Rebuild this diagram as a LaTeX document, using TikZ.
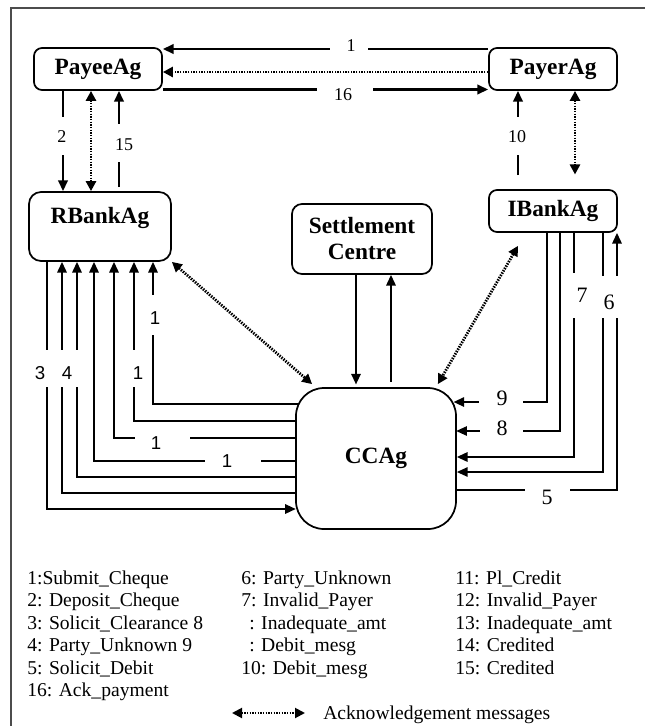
\documentclass[tikz,border=0pt]{standalone}
\usepackage{fontspec}
\setmainfont{Liberation Serif}
\newfontfamily\lsans{Liberation Sans}
\usetikzlibrary{arrows.meta}
\begin{document}
\begin{tikzpicture}[x=0.75pt,y=-0.75pt,
  box/.style={draw, line width=1.3pt, inner sep=0pt, align=center,
    font=\fontsize{17.5}{19.5}\selectfont\bfseries},
  topl/.style={line width=1.8pt},
  bund/.style={line width=1.5pt},
  mid/.style={line width=1.1pt},
  tip/.style={-{Triangle[length=8pt,width=7pt]}},
  dots/.style={line width=2.1pt, dash pattern=on 1.1pt off 0.9pt},
  ack/.style={dots, {Triangle[length=7.5pt,width=7.5pt]}-{Triangle[length=7.5pt,width=7.5pt]}},
  numa/.style={inner sep=0pt, font=\fontsize{13.5}{14}\selectfont},
  numb/.style={inner sep=0pt, font=\fontsize{14}{15}\lsans},
  numc/.style={inner sep=0pt, font=\fontsize{16.5}{17}\selectfont},
  leg/.style={anchor=base west, inner sep=0pt, font=\fontsize{14.7}{16}\selectfont}
]
\useasboundingbox (0,0) rectangle (645,726);
% frame
\draw[line width=0.8pt, black!70] (11,745) -- (11,8) -- (660,8);

% boxes
\node[box, rounded corners=6pt, minimum width=96pt, minimum height=31.5pt] (payee) at (98,69) {PayeeAg};
\node[box, rounded corners=6pt, minimum width=96pt, minimum height=31.5pt] (payer) at (553,69) {PayerAg};
\node[box, rounded corners=9pt, minimum width=106.5pt, minimum height=51.75pt] (rbank) at (100,226.5) {};
\node[font=\fontsize{17.5}{19.5}\selectfont\bfseries, inner sep=0pt] (rbanklbl) at (100,218) {RBankAg};
\node[box, rounded corners=7.5pt, minimum width=105pt, minimum height=52.5pt] (settle) at (362,239) {Settlement\\Centre};
\node[box, rounded corners=6pt, minimum width=96pt, minimum height=31.5pt] (ibank) at (553,211) {IBankAg};
\node[box, rounded corners=21pt, minimum width=120pt, minimum height=105.75pt] (cc) at (376,458.5) {CCAg};

% top connectors
\draw[topl, tip] (payer.west |- 0,49) -- (payee.east |- 0,49);
\draw[dots, -{Triangle[length=7.5pt,width=7.5pt]}] (payer.west |- 0,72) -- (payee.east |- 0,72);
\draw[topl, tip] (payee.east |- 0,89.5) -- (payer.west |- 0,89.5);
\draw[topl, tip] (payee.south -| 63,0) -- (rbank.north -| 63,0);
\draw[ack] (payee.south -| 91,0) -- (rbank.north -| 91,0);
\draw[topl, tip] ([yshift=3pt]rbank.north -| 119,0) -- (payee.south -| 119,0);
\draw[topl, tip] ([yshift=10.5pt]ibank.north -| 518,0) -- (payer.south -| 518,0);
\draw[ack] (payer.south -| 575,0) -- ([yshift=11pt]ibank.north -| 575,0);

% settlement
\draw[bund, tip] (settle.south -| 356,0) -- ([yshift=2pt]cc.north -| 356,0);
\draw[bund, tip] ([yshift=4pt]cc.north -| 391,0) -- (settle.south -| 391,0);

% diagonals
\draw[ack] (rbank.south east) -- ([shift={(12.75pt,2.25pt)}]cc.north west);
\draw[ack] ([shift={(-26.25pt,-9.75pt)}]ibank.south) -- ([shift={(-14.25pt,2.25pt)}]cc.north east);

% left bundle
\draw[bund, tip] ([xshift=2pt]cc.west |- 0,404) -| (153,0 |- rbank.south);
\draw[bund, tip] (cc.west |- 0,421) -| (134,0 |- rbank.south);
\draw[bund, tip] (cc.west |- 0,438) -| (114,0 |- rbank.south);
\draw[bund, tip] (cc.west |- 0,461) -| (94,0 |- rbank.south);
\draw[bund, tip] (cc.west |- 0,477) -| (77,0 |- rbank.south);
\draw[bund, tip] (cc.west |- 0,493) -| (62,0 |- rbank.south);
\draw[bund, tip] (rbank.south -| 47,0) |- ([xshift=0.5pt]cc.west |- 0,509);

% right bundle
\draw[bund, tip] (ibank.south -| 547,0) |- ([xshift=-2.5pt]cc.east |- 0,402);
\draw[mid, tip] (ibank.south -| 560,0) |- ([xshift=-0.5pt]cc.east |- 0,431);
\draw[bund, tip] (ibank.south -| 574,0) |- (cc.east |- 0,457);
\draw[mid, tip] (ibank.south -| 603,0) |- (cc.east |- 0,472);
\draw[bund, tip] (cc.east |- 0,490) -| (617,0 |- ibank.south);

% gaps in lines
\fill[white] (330,41) rectangle (368,57);
\fill[white] (317,84) rectangle (373,96);
\fill[white] (56,117) rectangle (70,155);
\fill[white] (112,124) rectangle (126,162);
\fill[white] (511,117) rectangle (525,155);
\fill[white] (146,295) rectangle (160,335);
\fill[white] (41,350) rectangle (84,387);
\fill[white] (127,350) rectangle (141,387);
\fill[white] (135,432) rectangle (190,444);
\fill[white] (205,455) rectangle (261,467);
\fill[white] (479,396) rectangle (523,408);
\fill[white] (480,425) rectangle (523,437);
\fill[white] (567,273) rectangle (581,318);
\fill[white] (597,276) rectangle (624,318);
\fill[white] (525,484) rectangle (570,496);

% labels
\node[numa] (t1) at (351,46) {1};
\node[numa] (t16) at (343,95) {16};
\node[numa] (t2) at (62,137) {2};
\node[numa] (t15) at (124,145) {15};
\node[numa] (t10) at (517,137) {10};
\node[numb] (la) at (155,318) {1};
\node[numb] (l3) at (40,373) {3};
\node[numb] (l4) at (67,373) {4};
\node[numb] (lb) at (138,373) {1};
\node[numb] (lc) at (156,443) {1};
\node[numb] (ld) at (227,461) {1};
\node[numc] (r9) at (502,398) {9};
\node[numc] (r8) at (502,428) {8};
\node[numc] (r7) at (582,295) {7};
\node[numc] (r6) at (609,302) {6};
\node[numc] (r5) at (547,497) {5};

% legend
\node[leg] (a1) at (27,584) {1:Submit\_Cheque};
\node[leg] (a2) at (27,606.5) {2: Deposit\_Cheque};
\node[leg] (a3) at (27,629) {3: Solicit\_Clearance 8};
\node[leg] (a4) at (27,651.5) {4: Party\_Unknown 9};
\node[leg] (a5) at (27,674) {5: Solicit\_Debit};
\node[leg] (a16) at (27,696.5) {16: Ack\_payment};
\node[leg] (b6) at (241,584) {6: Party\_Unknown};
\node[leg] (b7) at (241,606.5) {7: Invalid\_Payer};
\node[leg] (b8) at (249,629) {: Inadequate\_amt};
\node[leg] (b9) at (249,651.5) {: Debit\_mesg};
\node[leg] (b10) at (241,674) {10: Debit\_mesg};
\node[leg] (c11) at (455,584) {11: Pl\_Credit};
\node[leg] (c12) at (455,606.5) {12: Invalid\_Payer};
\node[leg] (c13) at (455,629) {13: Inadequate\_amt};
\node[leg] (c14) at (455,651.5) {14: Credited};
\node[leg] (c15) at (455,674) {15: Credited};
\coordinate (ackL) at (232,713);
\coordinate (ackR) at (305,713);
\draw[ack, line width=1.5pt] (ackL) -- (ackR);
\node[leg] (ackt) at (323,719) {Acknowledgement messages};
\end{tikzpicture}
\end{document}
